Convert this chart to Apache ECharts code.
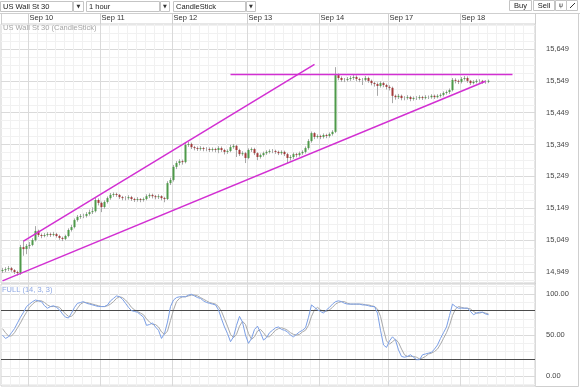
<!DOCTYPE html>
<html><head><meta charset="utf-8">
<script src="https://cdn.jsdelivr.net/npm/echarts@6/dist/echarts.min.js"></script>
<style>html,body{margin:0;padding:0;background:#fff}#c{width:580px;height:387px}</style>
</head><body><div id="c"></div>
<script>
// ---- data ----
const dayNames = ['Sep 9','Sep 10','Sep 11','Sep 12','Sep 13','Sep 14','Sep 17','Sep 18','Sep 19'];
const dayStarts = [0, 9, 33, 57, 82, 106, 129, 153, 177];
const slotCount = 178;

const opens = [
14952,14955,14958,14961,14955,14949,14946,15027,15021,15031,
15034,15049,15078,15065,15062,15065,15068,15065,15068,15062,
15056,15053,15062,15081,15090,15112,15122,15125,15125,15131,
15137,15140,15175,15166,15153,15169,15181,15191,15194,15191,
15184,15181,15181,15184,15178,15175,15178,15175,15178,15187,
15191,15187,15184,15187,15181,15178,15228,15238,15279,15291,
15297,15294,15348,15351,15341,15338,15335,15338,15335,15335,
15332,15335,15332,15338,15332,15326,15329,15341,15345,15332,
15319,15322,15307,15332,15335,15322,15310,15316,15322,15326,
15329,15329,15326,15322,15326,15319,15307,15310,15319,15316,
15322,15326,15338,15360,15385,15373,15376,15373,15379,15376,
15382,15389,15567,15558,15552,15552,15555,15558,15561,15555,
15552,15552,15558,15549,15542,15539,15533,15542,15536,15530,
15527,15502,15498,15502,15495,15495,15498,15492,15495,15495,
15498,15495,15498,15498,15502,15498,15502,15505,15511,15514,
15520,15552,15549,15546,15555,15558,15549,15542,15546,15549,
15549,15546,15546];
const closes = [
14955,14958,14961,14955,14949,14946,15027,15021,15031,15034,
15049,15078,15065,15062,15065,15068,15065,15068,15062,15056,
15053,15062,15081,15090,15112,15122,15125,15125,15131,15137,
15140,15175,15166,15153,15169,15181,15191,15194,15191,15184,
15181,15181,15184,15178,15175,15178,15175,15178,15187,15191,
15187,15184,15187,15181,15178,15228,15238,15279,15291,15297,
15294,15348,15351,15341,15338,15335,15338,15335,15335,15332,
15335,15332,15338,15332,15326,15329,15341,15345,15332,15319,
15322,15307,15332,15335,15322,15310,15316,15322,15326,15329,
15329,15326,15322,15326,15319,15307,15310,15319,15316,15322,
15326,15338,15360,15385,15373,15376,15373,15379,15376,15382,
15389,15567,15558,15552,15552,15555,15558,15561,15555,15552,
15552,15558,15549,15542,15539,15533,15542,15536,15530,15527,
15502,15498,15502,15495,15495,15498,15492,15495,15495,15498,
15495,15498,15498,15502,15498,15502,15505,15511,15514,15520,
15552,15549,15546,15555,15558,15549,15542,15546,15549,15549,
15546,15546,15549];
const lows = [
14946,14949,14952,14950,14943,14938,14940,15000,15005,15022,
15030,15045,15059,15055,15058,15060,15059,15061,15057,15050,
15046,15049,15058,15076,15086,15107,15116,15118,15120,15126,
15131,15136,15158,15137,15148,15164,15176,15185,15185,15178,
15174,15174,15176,15172,15169,15170,15168,15170,15174,15181,
15180,15177,15178,15174,15168,15175,15222,15233,15272,15284,
15286,15290,15342,15335,15331,15329,15330,15328,15328,15326,
15327,15325,15322,15326,15318,15320,15325,15336,15310,15313,
15314,15291,15303,15326,15316,15300,15305,15311,15317,15321,
15322,15320,15316,15317,15313,15291,15299,15304,15309,15311,
15317,15321,15333,15355,15366,15368,15366,15368,15369,15371,
15377,15385,15551,15546,15545,15547,15549,15552,15548,15545,
15536,15547,15543,15535,15531,15502,15528,15529,15522,15519,
15479,15490,15492,15488,15488,15490,15485,15487,15489,15490,
15489,15491,15492,15493,15492,15494,15497,15500,15506,15508,
15516,15541,15539,15541,15550,15543,15536,15538,15541,15543,
15540,15540,15542];
const highs = [
14962,14964,14968,14965,14958,14953,15034,15049,15037,15043,
15055,15093,15082,15070,15071,15074,15073,15075,15072,15066,
15060,15066,15086,15097,15117,15128,15131,15132,15137,15145,
15152,15182,15180,15170,15174,15186,15197,15199,15198,15194,
15188,15187,15190,15188,15182,15184,15181,15183,15193,15196,
15195,15191,15193,15190,15185,15234,15245,15285,15297,15303,
15302,15354,15357,15355,15345,15343,15344,15342,15341,15340,
15340,15339,15344,15343,15336,15334,15348,15351,15348,15336,
15328,15326,15337,15340,15339,15325,15321,15327,15331,15334,
15335,15333,15330,15331,15330,15323,15316,15324,15323,15327,
15331,15343,15366,15390,15388,15381,15380,15384,15383,15387,
15394,15592,15572,15563,15558,15561,15564,15567,15566,15559,
15558,15564,15562,15553,15546,15544,15548,15546,15540,15535,
15531,15506,15508,15506,15501,15504,15502,15500,15501,15504,
15502,15504,15503,15507,15506,15507,15510,15516,15519,15525,
15558,15557,15553,15561,15564,15563,15552,15551,15554,15554,
15552,15551,15553];

const stochK = [
50,46,48,53,58,65,72,78,85,88,
91,93,92,91,86,83,85,86,84,81,
76,72,71,77,84,89,90,91,89,88,
87,86,85,85,85,87,92,95,98,97,
94,89,84,80,79,78,75,72,62,63,
65,60,56,46,52,66,85,93,96,97,
97,97,99,100,98,96,95,92,90,89,
88,87,81,70,60,52,42,48,62,73,
66,50,40,46,57,61,53,44,47,53,
56,59,60,57,56,54,50,48,51,54,
56,59,72,87,84,81,79,77,81,84,
88,91,92,91,89,88,88,88,88,88,
87,87,86,85,85,77,56,38,35,43,
48,44,32,24,23,24,26,23,20,20,
26,27,28,29,33,38,46,53,60,74,
88,85,83,83,83,83,79,75,77,78,
78,76,75];
const stochD = [
58,53,49,49,53,59,65,72,78,84,
88,91,92,92,90,87,85,85,85,84,
80,76,73,73,77,83,88,90,90,89,
88,87,86,85,85,86,88,91,95,97,
96,93,89,84,81,79,77,75,70,66,
63,63,60,54,51,55,68,81,91,95,
97,97,98,99,99,98,96,94,92,90,
89,88,85,79,70,61,51,47,51,61,
67,63,52,45,48,55,57,53,48,48,
52,56,58,59,58,56,53,51,50,51,
54,56,62,73,81,84,81,79,79,81,
84,88,90,91,91,89,88,88,88,88,
88,87,87,86,85,82,73,57,43,39,
42,45,41,33,26,24,24,24,23,21,
22,24,27,28,30,33,39,46,53,62,
74,82,85,84,83,83,82,79,77,77,
78,77,76];

const priceTicks = [14949, 15049, 15149, 15249, 15349, 15449, 15549, 15649];
const stochTicks = [0, 50, 100];
const stochLevels = [80, 20];
const upperChannel = [[7, 15046], [104, 15601]];
const lowerChannel = [[0, 14921], [161, 15548]];
const resistance = [[76, 15569], [170, 15569]];

// ---- derived helpers ----
const categories = [];
for (let i = 0; i < slotCount; i++) {
  let d = 0;
  for (let k = 0; k < dayStarts.length; k++) if (dayStarts[k] <= i) d = k;
  const hour = d === 0 ? 15 + i : i - dayStarts[d];
  categories.push(dayNames[d] + ' ' + String(hour).padStart(2, '0') + ':00');
}
const daySet = new Set(dayStarts.slice(1, 8));
const minorSet = new Set();
[0].concat(dayStarts.slice(1, 8)).forEach(s => { for (let k = 1; k < 8; k++) minorSet.add(s + 3 * k); });
[0, 3, 6].forEach(v => minorSet.add(v));
daySet.forEach(v => minorSet.delete(v));
minorSet.delete(0);

const candleData = opens.map((o, i) => [o, closes[i], lows[i], highs[i]]);
const bodyData = opens.map((o, i) => [o, closes[i], Math.min(o, closes[i]), Math.max(o, closes[i])]);

const priceMin = 14914.5, priceMax = 15727.5;
const minorPrice = [];
for (let v = 14924; v <= 15724; v += 25) if (!priceTicks.includes(v)) minorPrice.push(v);
const minorStoch = [-10, 10, 20, 30, 40, 60, 70, 80, 90, 110];

const FONT = 'Liberation Sans, Arial, sans-serif';
const fmtThousands = v => String(Math.round(v)).replace(/\B(?=(\d{3})+(?!\d))/g, ',');

const chart = echarts.init(document.getElementById('c'), null, {renderer: 'canvas'});

function catAxis(grid, major, top) {
  return {
    type: 'category', gridIndex: grid, data: categories, boundaryGap: true,
    position: top ? 'top' : 'bottom',
    axisLine: {show: false},
    axisTick: major && top ? {show: true, length: 11, interval: i => daySet.has(i), lineStyle: {color: '#cfcfcf'}} : {show: false},
    axisLabel: major && top ? {
      show: true, interval: i => daySet.has(i), align: 'left', margin: 2,
      fontSize: 7.5, color: '#333', fontFamily: FONT,
      formatter: v => v.split(' ').slice(0, 2).join(' ')
    } : {show: false},
    splitLine: {show: true, interval: major ? (i => daySet.has(i)) : (i => minorSet.has(i)),
      lineStyle: {color: major ? '#dadada' : '#f1f1f1', width: 1}}
  };
}

const option = {
  animation: false,
  backgroundColor: '#fff',
  grid: [
    {left: 1, top: 24, width: 534, height: 259, show: true, borderColor: '#cfcfcf', borderWidth: 1, backgroundColor: 'transparent'},
    {left: 1, top: 284, width: 534, height: 102, show: true, borderColor: '#cfcfcf', borderWidth: 1, backgroundColor: 'transparent'}
  ],
  xAxis: [catAxis(0, false, false), catAxis(0, true, true), catAxis(1, false, false), catAxis(1, true, false)],
  yAxis: [
    {type: 'value', gridIndex: 0, position: 'right', min: priceMin, max: priceMax,
      axisLine: {show: false}, axisTick: {show: false, customValues: minorPrice},
      axisLabel: {show: false}, splitLine: {show: true, lineStyle: {color: '#f1f1f1'}}},
    {type: 'value', gridIndex: 0, position: 'right', min: priceMin, max: priceMax,
      axisLine: {show: false}, axisTick: {show: false, customValues: priceTicks},
      axisLabel: {show: true, customValues: priceTicks, margin: 11, fontSize: 7.5, color: '#444', fontFamily: FONT, formatter: fmtThousands},
      splitLine: {show: true, lineStyle: {color: '#dadada'}}},
    {type: 'value', gridIndex: 1, position: 'right', min: -12.2, max: 112.6,
      axisLine: {show: false}, axisTick: {show: false, customValues: minorStoch},
      axisLabel: {show: false}, splitLine: {show: true, lineStyle: {color: '#f1f1f1'}}},
    {type: 'value', gridIndex: 1, position: 'right', min: -12.2, max: 112.6,
      axisLine: {show: false}, axisTick: {show: false, customValues: stochTicks},
      axisLabel: {show: true, customValues: stochTicks, margin: 11, fontSize: 7.5, color: '#444', fontFamily: FONT, formatter: v => v.toFixed(2)},
      splitLine: {show: true, lineStyle: {color: '#dadada'}}}
  ],
  series: [
    {type: 'candlestick', xAxisIndex: 1, yAxisIndex: 1, data: candleData, barWidth: 1,
      itemStyle: {color: 'rgba(0,0,0,0)', color0: 'rgba(0,0,0,0)', borderColor: '#a8a8a8', borderColor0: '#a8a8a8', borderWidth: 1}, z: 3},
    {type: 'candlestick', xAxisIndex: 1, yAxisIndex: 1, data: bodyData, barWidth: 2,
      itemStyle: {color: '#4f9a4a', color0: '#a23a3a', borderColor: '#4f9a4a', borderColor0: '#a23a3a', borderWidth: 0}, z: 4},
    {type: 'line', xAxisIndex: 1, yAxisIndex: 1, data: upperChannel, symbol: 'none', lineStyle: {color: '#d22fd2', width: 1.5}, z: 6, silent: true},
    {type: 'line', xAxisIndex: 1, yAxisIndex: 1, data: lowerChannel, symbol: 'none', lineStyle: {color: '#d22fd2', width: 1.5}, z: 6, silent: true},
    {type: 'line', xAxisIndex: 1, yAxisIndex: 1, data: resistance, symbol: 'none', lineStyle: {color: '#d22fd2', width: 1.5}, z: 6, silent: true},
    {type: 'line', xAxisIndex: 3, yAxisIndex: 3, data: stochD, showSymbol: false, symbol: 'none',
      lineStyle: {color: '#a9a9a9', width: 1}, z: 4,
      markLine: {silent: true, symbol: 'none', label: {show: false},
        lineStyle: {color: '#4a4a4a', width: 1, type: 'solid'},
        data: stochLevels.map(v => ({yAxis: v}))}},
    {type: 'line', xAxisIndex: 3, yAxisIndex: 3, data: stochK, showSymbol: false, symbol: 'none',
      lineStyle: {color: '#7b9fe6', width: 1}, z: 5}
  ],
  graphic: [
    // header row
    {type: 'line', shape: {x1: 0, y1: 13.5, x2: 580, y2: 13.5}, style: {stroke: '#cfcfcf', lineWidth: 1}, silent: true},
    {type: 'line', shape: {x1: 1.5, y1: 13.5, x2: 1.5, y2: 24}, style: {stroke: '#cfcfcf', lineWidth: 1}, silent: true},
    // right axis panel
    {type: 'rect', shape: {x: 535.5, y: 13.5, width: 43, height: 373}, style: {fill: 'none', stroke: '#cfcfcf', lineWidth: 1}, silent: true},
    // toolbar
    {type: 'rect', shape: {x: 0.5, y: 1.5, width: 72, height: 10}, style: {fill: '#fff', stroke: '#c4c4c4'}, silent: true},
    {type: 'rect', shape: {x: 73.5, y: 1.5, width: 10, height: 10}, style: {fill: '#fff', stroke: '#c4c4c4'}, silent: true},
    {type: 'text', x: 3, y: 6.5, style: {text: 'US Wall St 30', fontSize: 7.5, fontFamily: FONT, fill: '#222', verticalAlign: 'middle'}, silent: true},
    {type: 'text', x: 78.5, y: 6.8, style: {text: '▼', fontSize: 5, fontFamily: 'DejaVu Sans', fill: '#333', align: 'center', verticalAlign: 'middle'}, silent: true},
    {type: 'rect', shape: {x: 86.5, y: 1.5, width: 73, height: 10}, style: {fill: '#fff', stroke: '#c4c4c4'}, silent: true},
    {type: 'rect', shape: {x: 160.5, y: 1.5, width: 9, height: 10}, style: {fill: '#fff', stroke: '#c4c4c4'}, silent: true},
    {type: 'text', x: 89, y: 6.5, style: {text: '1 hour', fontSize: 7.5, fontFamily: FONT, fill: '#222', verticalAlign: 'middle'}, silent: true},
    {type: 'text', x: 165, y: 6.8, style: {text: '▼', fontSize: 5, fontFamily: 'DejaVu Sans', fill: '#333', align: 'center', verticalAlign: 'middle'}, silent: true},
    {type: 'rect', shape: {x: 173.5, y: 1.5, width: 72, height: 10}, style: {fill: '#fff', stroke: '#c4c4c4'}, silent: true},
    {type: 'rect', shape: {x: 246.5, y: 1.5, width: 9, height: 10}, style: {fill: '#fff', stroke: '#c4c4c4'}, silent: true},
    {type: 'text', x: 176, y: 6.5, style: {text: 'CandleStick', fontSize: 7.5, fontFamily: FONT, fill: '#222', verticalAlign: 'middle'}, silent: true},
    {type: 'text', x: 251, y: 6.8, style: {text: '▼', fontSize: 5, fontFamily: 'DejaVu Sans', fill: '#333', align: 'center', verticalAlign: 'middle'}, silent: true},
    {type: 'rect', shape: {x: 509.5, y: 0.5, width: 22, height: 10}, style: {fill: '#fff', stroke: '#c4c4c4'}, silent: true},
    {type: 'text', x: 520.5, y: 5.8, style: {text: 'Buy', fontSize: 7.5, fontFamily: FONT, fill: '#222', align: 'center', verticalAlign: 'middle'}, silent: true},
    {type: 'rect', shape: {x: 533.5, y: 0.5, width: 21, height: 10}, style: {fill: '#fff', stroke: '#c4c4c4'}, silent: true},
    {type: 'text', x: 544, y: 5.8, style: {text: 'Sell', fontSize: 7.5, fontFamily: FONT, fill: '#222', align: 'center', verticalAlign: 'middle'}, silent: true},
    {type: 'rect', shape: {x: 555.5, y: 0.5, width: 11, height: 10}, style: {fill: '#fff', stroke: '#c4c4c4'}, silent: true},
    {type: 'text', x: 561, y: 5.8, style: {text: 'ψ', fontSize: 6.5, fontFamily: 'DejaVu Sans', fill: '#555', align: 'center', verticalAlign: 'middle'}, silent: true},
    {type: 'rect', shape: {x: 566.5, y: 0.5, width: 11, height: 10}, style: {fill: '#fff', stroke: '#c4c4c4'}, silent: true},
    {type: 'line', shape: {x1: 570, y1: 8, x2: 575, y2: 3}, style: {stroke: '#333', lineWidth: 1}, silent: true},
    // panel titles
    {type: 'text', x: 3, y: 28, style: {text: 'US Wall St 30 (CandleStick)', fontSize: 7.5, fontFamily: FONT, fill: '#a6a6a6', verticalAlign: 'middle'}, silent: true, z: 10},
    {type: 'text', x: 2, y: 289.5, style: {text: 'FULL (14, 3, 3)', fontSize: 7.5, fontFamily: FONT, fill: '#8ea8e4', verticalAlign: 'middle'}, silent: true, z: 10}
  ]
};
chart.setOption(option);
</script>
</body></html>
